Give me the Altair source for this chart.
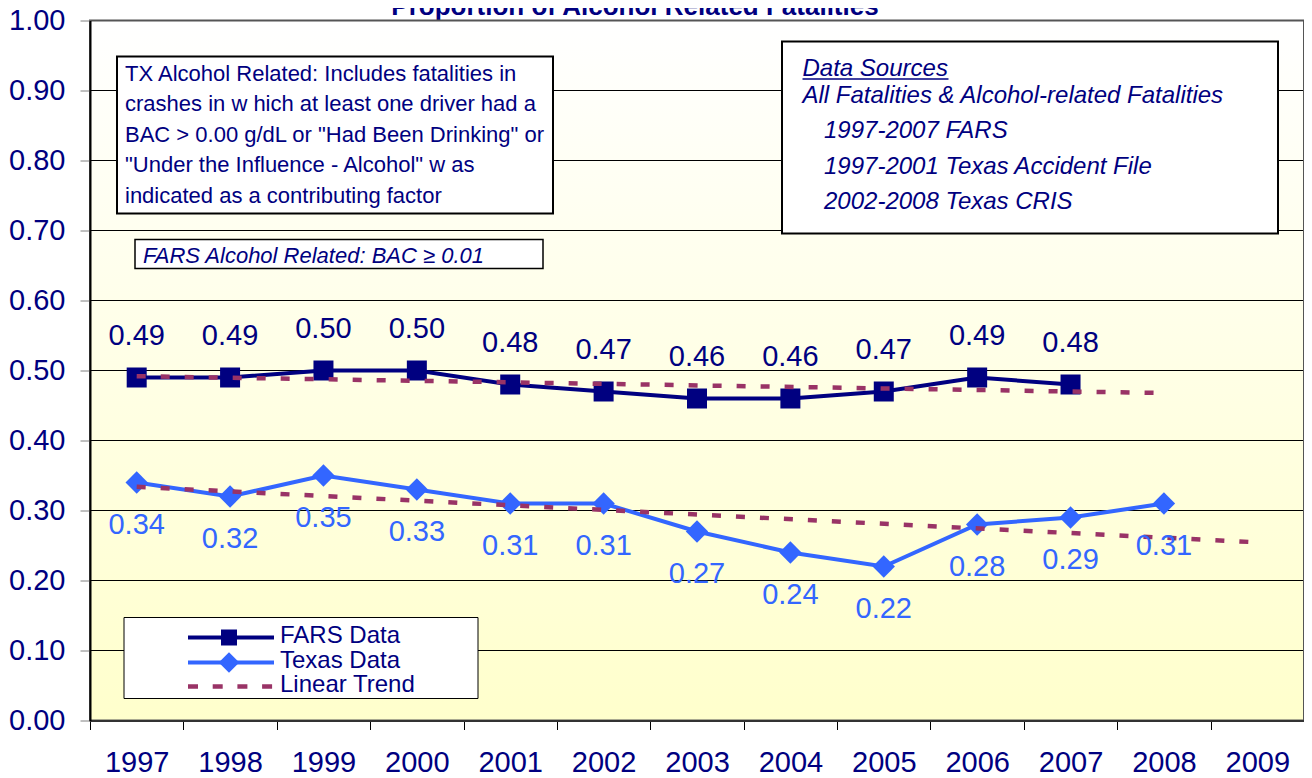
import altair as alt
import pandas as pd

# ---------------- data ----------------
x_categories = [1997, 1998, 1999, 2000, 2001, 2002, 2003, 2004, 2005, 2006, 2007, 2008, 2009]
fars_years = [1997, 1998, 1999, 2000, 2001, 2002, 2003, 2004, 2005, 2006, 2007]
fars_values = [0.49, 0.49, 0.50, 0.50, 0.48, 0.47, 0.46, 0.46, 0.47, 0.49, 0.48]
texas_years = [1997, 1998, 1999, 2000, 2001, 2002, 2003, 2004, 2005, 2006, 2007, 2008]
texas_values = [0.34, 0.32, 0.35, 0.33, 0.31, 0.31, 0.27, 0.24, 0.22, 0.28, 0.29, 0.31]
y_ticks = [0.0, 0.1, 0.2, 0.3, 0.4, 0.5, 0.6, 0.7, 0.8, 0.9, 1.0]

title_text = "Proportion of Alcohol Related Fatalities"
tx_note_lines = [
    "TX Alcohol Related: Includes fatalities in",
    "crashes in w hich at least one driver had a",
    "BAC > 0.00 g/dL or \"Had Been Drinking\" or",
    "\"Under the Influence - Alcohol\" w as",
    "indicated as a contributing factor",
]
fars_note = "FARS Alcohol Related: BAC \u2265 0.01"
sources_title = "Data Sources"
sources_header = "All Fatalities & Alcohol-related Fatalities"
sources_items = ["1997-2007 FARS", "1997-2001 Texas Accident File", "2002-2008 Texas CRIS"]
legend_labels = ["FARS Data", "Texas Data", "Linear Trend"]

# ---------------- styles ----------------
NAVY = "#000080"
BLUE = "#3366FF"
TREND = "#993366"
FONT = "Liberation Sans"
W, H = 1214, 700

df_fars = pd.DataFrame({"year": fars_years, "value": fars_values})
df_tex = pd.DataFrame({"year": texas_years, "value": texas_values})
df_grid = pd.DataFrame({"value": y_ticks[1:-1]})
ONE = pd.DataFrame({"k": [0]})

band = W / len(x_categories)
xscale = alt.Scale(domain=[x_categories[0] - 0.5, x_categories[-1] + 0.5], nice=False, zero=False)
yscale = alt.Scale(domain=[y_ticks[0], y_ticks[-1]], nice=False, zero=False)

xaxis = alt.Axis(
    values=[c - 0.5 for c in x_categories] + [x_categories[-1] + 0.5],
    labelExpr=f"datum.value < {x_categories[-1]} ? format(datum.value + 0.5, 'd') : ''",
    labelOffset=band / 2, labelFlush=False, labelOverlap=False, labelBound=False,
    tickSize=9, tickColor="black", tickWidth=1,
    domainColor="#333333", domainWidth=2, grid=False,
    labelFont=FONT, labelFontSize=29, labelColor=NAVY, labelPadding=19,
    title=None, zindex=1,
)
yaxis = alt.Axis(
    values=y_ticks, format=".2f",
    tickSize=10, tickColor="#808080", tickWidth=1,
    domainColor="black", domainWidth=2, grid=False,
    labelFont=FONT, labelFontSize=29, labelColor=NAVY, labelPadding=15,
    title=None, zindex=1,
)

X = alt.X("year:Q", scale=xscale, axis=xaxis)
Y = alt.Y("value:Q", scale=yscale, axis=yaxis)


def txt(text, x, y, size, color=NAVY, style="normal", weight="normal", align="left", baseline="middle"):
    return alt.Chart(ONE).mark_text(
        text=text, font=FONT, fontSize=size, fontStyle=style, fontWeight=weight,
        color=color, align=align, baseline=baseline,
    ).encode(x=alt.value(x), y=alt.value(y))


def box(x1, y1, x2, y2, stroke="black", sw=2, fill="white"):
    return alt.Chart(ONE).mark_rect(fill=fill, stroke=stroke, strokeWidth=sw).encode(
        x=alt.value(x1), x2=alt.value(x2), y=alt.value(y1), y2=alt.value(y2))


gradient = alt.Gradient(
    gradient="linear",
    stops=[alt.GradientStop(color="#FFFFFF", offset=0), alt.GradientStop(color="#FFFFCC", offset=1)],
    x1=0, x2=0, y1=0, y2=1,
)
background = alt.Chart(ONE).mark_rect(fill=gradient).encode(
    x=alt.value(0), x2=alt.value(W), y=alt.value(0), y2=alt.value(H))

grid = alt.Chart(df_grid).mark_rule(color="black", strokeWidth=1).encode(y=Y)

fars_line = alt.Chart(df_fars).mark_line(color=NAVY, strokeWidth=4).encode(x=X, y=Y)
tex_line = alt.Chart(df_tex).mark_line(color=BLUE, strokeWidth=4).encode(x=X, y=Y)
fars_pts = alt.Chart(df_fars).mark_point(shape="square", filled=True, size=400, color=NAVY, opacity=1).encode(x=X, y=Y)
tex_pts = alt.Chart(df_tex).mark_point(shape="diamond", filled=True, size=500, color=BLUE, opacity=1).encode(x=X, y=Y)

fars_trend = alt.Chart(df_fars).transform_regression(
    "year", "value", extent=[texas_years[0], texas_years[-1]]
).mark_line(color=TREND, strokeWidth=4.5, strokeDash=[9, 15]).encode(x=X, y=Y)
tex_trend = alt.Chart(df_tex).transform_regression(
    "year", "value", extent=[x_categories[0], x_categories[-1]]
).mark_line(color=TREND, strokeWidth=4.5, strokeDash=[9, 15]).encode(x=X, y=Y)

fars_lbl = alt.Chart(df_fars).mark_text(font=FONT, fontSize=29, color=NAVY, dy=-42).encode(
    x=X, y=Y, text=alt.Text("value:Q", format=".2f"))
tex_lbl = alt.Chart(df_tex).mark_text(font=FONT, fontSize=29, color=BLUE, dy=42).encode(
    x=X, y=Y, text=alt.Text("value:Q", format=".2f"))

layers = [background, grid, fars_line, tex_line, fars_pts, tex_pts, fars_trend, tex_trend,
          fars_lbl, tex_lbl]

# TX note box
layers.append(box(27, 36, 463, 193))
for i, line in enumerate(tx_note_lines):
    layers.append(txt(line, 35, 53 + i * 30.5, 22))

# FARS note box
layers.append(box(45, 219, 453, 248, sw=1.5))
layers.append(txt(fars_note, 53, 235.5, 22, style="italic"))

# Data sources box
layers.append(box(692, 21, 1188, 213))
layers.append(txt(sources_title, 712.5, 48.5, 24, style="italic"))
layers.append(alt.Chart(ONE).mark_rule(color=NAVY, strokeWidth=1.5).encode(
    x=alt.value(712.5), x2=alt.value(858.5), y=alt.value(58.5)))
layers.append(txt(sources_header, 712.5, 75, 24, style="italic"))
for i, line in enumerate(sources_items):
    layers.append(txt(line, 734, 110.5 + i * 35.5, 24, style="italic"))

# Legend
layers.append(box(34, 597, 388, 678, sw=1))
layers.append(alt.Chart(ONE).mark_rule(color=NAVY, strokeWidth=4).encode(
    x=alt.value(98), x2=alt.value(184), y=alt.value(617)))
layers.append(alt.Chart(ONE).mark_point(shape="square", filled=True, size=256, color=NAVY, opacity=1).encode(
    x=alt.value(139), y=alt.value(617)))
layers.append(alt.Chart(ONE).mark_rule(color=BLUE, strokeWidth=4).encode(
    x=alt.value(98), x2=alt.value(184), y=alt.value(642)))
layers.append(alt.Chart(ONE).mark_point(shape="diamond", filled=True, size=420, color=BLUE, opacity=1).encode(
    x=alt.value(139), y=alt.value(642)))
layers.append(alt.Chart(ONE).mark_rule(color=TREND, strokeWidth=4.5, strokeDash=[10, 14.7]).encode(
    x=alt.value(98), x2=alt.value(184), y=alt.value(666)))
for i, lab in enumerate(legend_labels):
    layers.append(txt(lab, 190, 615.5 + i * 24.6, 24))

# Title (cut at the top as in the reference)
layers.append(txt(title_text, 545, -6, 26, weight="bold", align="center", baseline="alphabetic"))

# Plot border
layers.append(alt.Chart(ONE).mark_rect(filled=False, stroke="#555555", strokeWidth=2).encode(
    x=alt.value(0), x2=alt.value(W), y=alt.value(0), y2=alt.value(H)))

chart = alt.layer(*layers).properties(
    width=W, height=H,
    padding={"left": 82, "top": 12.5, "right": 0, "bottom": 57},
    autosize=alt.AutoSizeParams(type="none"),
).configure_view(stroke=None)

chart.save("out.html", embed_options={"renderer": "svg", "actions": False})
